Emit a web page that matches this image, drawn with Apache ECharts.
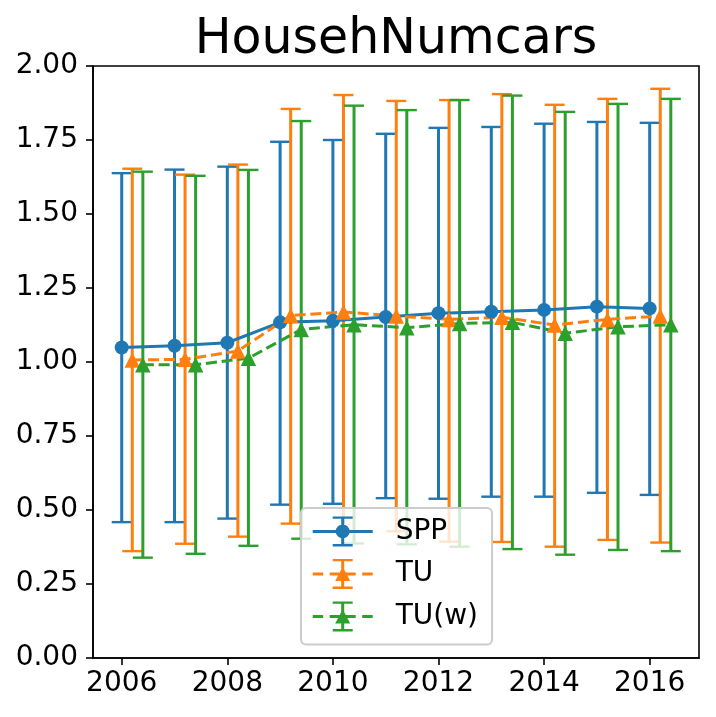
<!DOCTYPE html>
<html>
<head>
<meta charset="utf-8">
<script src="https://cdn.jsdelivr.net/npm/echarts@6/dist/echarts.min.js"></script>
<style>
  html, body { margin: 0; padding: 0; background: #fff; }
  #chart { width: 716px; height: 717px; }
</style>
</head>
<body>
<div id="chart"></div>
<script>
const titleText = 'HousehNumcars';
const years = [2006, 2007, 2008, 2009, 2010, 2011, 2012, 2013, 2014, 2015, 2016];
const xTicks = [2006, 2008, 2010, 2012, 2014, 2016];
const yTicks = [0, 0.25, 0.5, 0.75, 1, 1.25, 1.5, 1.75, 2];

const seriesNames = ['SPP', 'TU', 'TU(w)'];

const sppMean = [1.049, 1.055, 1.065, 1.134, 1.139, 1.152, 1.165, 1.170, 1.176, 1.187, 1.181];
const sppLow  = [0.459, 0.459, 0.471, 0.518, 0.521, 0.540, 0.538, 0.545, 0.545, 0.558, 0.551];
const sppHigh = [1.638, 1.650, 1.660, 1.744, 1.750, 1.771, 1.791, 1.794, 1.805, 1.811, 1.808];

const tuMean = [1.007, 1.009, 1.037, 1.157, 1.169, 1.155, 1.144, 1.151, 1.125, 1.144, 1.155];
const tuLow  = [0.361, 0.386, 0.410, 0.454, 0.430, 0.428, 0.393, 0.392, 0.376, 0.399, 0.390];
const tuHigh = [1.653, 1.633, 1.667, 1.855, 1.902, 1.882, 1.885, 1.905, 1.869, 1.889, 1.923];

const tuwMean = [0.991, 0.991, 1.013, 1.110, 1.126, 1.116, 1.130, 1.134, 1.097, 1.119, 1.126];
const tuwLow  = [0.339, 0.352, 0.379, 0.403, 0.387, 0.384, 0.376, 0.368, 0.349, 0.365, 0.361];
const tuwHigh = [1.643, 1.629, 1.649, 1.814, 1.866, 1.851, 1.885, 1.900, 1.845, 1.872, 1.889];

// ---- styling ----
const colors = ['#1f77b4', '#ff7f0e', '#2ca02c'];
const xOffsets = [0, 0.2, 0.4];
const symbols = ['circle', 'triangle', 'triangle'];
const symbolSizes = [14, 15.5, 15.5];
const dashed = [false, true, true];
const FONT = 'DejaVu Sans';

const means = [sppMean, tuMean, tuwMean];
const lows = [sppLow, tuLow, tuwLow];
const highs = [sppHigh, tuHigh, tuwHigh];

// legend icons (errorbar handle: line + bar + caps + marker), 60x30 box
const bar = 'M28.5 0 L31.5 0 L31.5 30 L28.5 30 Z M20 0 L40 0 L40 2.4 L20 2.4 Z M20 27.6 L40 27.6 L40 30 L20 30 Z ';
const iconSolid = 'path://M0 13.5 L60 13.5 L60 16.5 L0 16.5 Z ' + bar +
  'M37 15 A7 7 0 1 1 23 15 A7 7 0 1 1 37 15 Z';
const dashes = 'M0 13.5 L10.5 13.5 L10.5 16.5 L0 16.5 Z M17 13.5 L28 13.5 L28 16.5 L17 16.5 Z ' +
  'M32 13.5 L43 13.5 L43 16.5 L32 16.5 Z M49.5 13.5 L60 13.5 L60 16.5 L49.5 16.5 Z ';
const iconDashTri = 'path://' + dashes + bar + 'M30 7.8 L37.5 22.2 L22.5 22.2 Z';
const icons = [iconSolid, iconDashTri, iconDashTri];

const lineSeries = seriesNames.map((name, i) => ({
  name: name,
  type: 'line',
  z: 3,
  data: years.map((y, k) => [y + xOffsets[i], means[i][k]]),
  symbol: symbols[i],
  symbolSize: symbolSizes[i],
  showSymbol: true,
  lineStyle: { color: colors[i], width: 3, type: dashed[i] ? [11, 4.8] : 'solid' },
  itemStyle: { color: colors[i], borderWidth: 0 },
  emphasis: { disabled: true },
  silent: true
}));

const errSeries = seriesNames.map((name, i) => ({
  name: name,
  type: 'custom',
  z: 2,
  data: years.map((y, k) => [y + xOffsets[i], lows[i][k], highs[i][k]]),
  itemStyle: { color: colors[i] },
  encode: { x: 0, y: [1, 2] },
  silent: true,
  renderItem: function (params, api) {
    const x = api.value(0);
    const pLo = api.coord([x, api.value(1)]);
    const pHi = api.coord([x, api.value(2)]);
    const half = 10;
    const c = colors[i];
    return {
      type: 'group',
      children: [
        { type: 'line', shape: { x1: pLo[0], y1: pLo[1], x2: pHi[0], y2: pHi[1] },
          style: { stroke: c, lineWidth: 3 } },
        { type: 'line', shape: { x1: pLo[0] - half, y1: pLo[1], x2: pLo[0] + half, y2: pLo[1] },
          style: { stroke: c, lineWidth: 2.4 } },
        { type: 'line', shape: { x1: pHi[0] - half, y1: pHi[1], x2: pHi[0] + half, y2: pHi[1] },
          style: { stroke: c, lineWidth: 2.4 } }
      ]
    };
  }
}));

const chart = echarts.init(document.getElementById('chart'), null, { renderer: 'canvas' });
chart.setOption({
  animation: false,
  backgroundColor: '#fff',
  title: {
    text: titleText,
    left: 396,
    top: 16,
    padding: 0,
    textAlign: 'center',
    textStyle: { fontFamily: FONT, fontSize: 49, fontWeight: 'normal', color: '#000' }
  },
  grid: {
    left: 93, right: 17, top: 66, bottom: 59,
    show: true, borderColor: '#000', borderWidth: 1.6, backgroundColor: 'transparent'
  },
  legend: {
    left: 301,
    top: 508,
    orient: 'vertical',
    data: seriesNames.map((n, i) => ({ name: n, icon: icons[i] })),
    itemWidth: 60,
    itemHeight: 30,
    itemGap: 12.5,
    padding: [8.4, 14, 13, 11.7],
    backgroundColor: 'rgba(255,255,255,0.8)',
    borderColor: '#cccccc',
    borderWidth: 2,
    borderRadius: 5,
    itemStyle: { borderWidth: 0 },
    selectedMode: false,
    textStyle: { fontFamily: FONT, fontSize: 28, color: '#000', lineHeight: 30, padding: [0, 0, 0, 18] }
  },
  xAxis: {
    type: 'value',
    min: 2005.456,
    max: 2016.934,
    splitLine: { show: false },
    axisLine: { show: true, lineStyle: { color: '#000', width: 1.6 } },
    axisTick: { show: true, inside: false, length: 7, lineStyle: { color: '#000', width: 1.6 }, customValues: xTicks },
    axisLabel: { show: true, customValues: xTicks, margin: 12, fontFamily: FONT, fontSize: 28, color: '#000',
      formatter: v => String(v) }
  },
  yAxis: {
    type: 'value',
    min: 0,
    max: 2,
    splitLine: { show: false },
    axisLine: { show: true, lineStyle: { color: '#000', width: 1.6 } },
    axisTick: { show: true, inside: false, length: 7, lineStyle: { color: '#000', width: 1.6 }, customValues: yTicks },
    axisLabel: { show: true, customValues: yTicks, margin: 15, fontFamily: FONT, fontSize: 28, color: '#000',
      formatter: v => v.toFixed(2) }
  },
  series: lineSeries.concat(errSeries)
});
</script>
</body>
</html>
